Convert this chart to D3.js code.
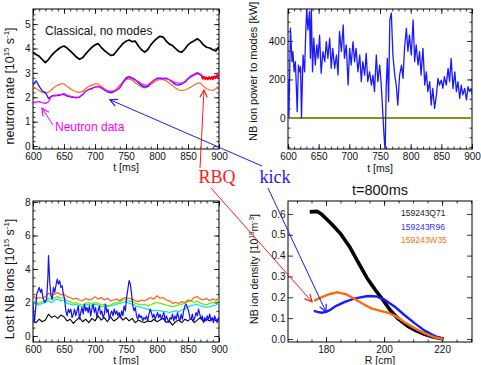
<!DOCTYPE html>
<html>
<head>
<meta charset="utf-8">
<script src="https://cdn.jsdelivr.net/npm/d3@7"></script>
<style>
  html, body { margin: 0; padding: 0; background: #fff; }
  svg { display: block; }
</style>
</head>
<body>
<svg id="chart" width="481" height="365"></svg>
<script>
// ---- data -------------------------------------------------------------
// time grid (ms) of the 5 ms sampled traces
const tGrid = d3.range(600, 901, 5);

const tTicks = [600, 650, 700, 750, 800, 850, 900];
const rateTicks = [0, 1, 2, 3, 4, 5];
const powerTicks = [0, 200, 400];
const lostTicks = [0, 2, 4, 6, 8];
const radiusTicks = [180, 200, 220];
const densTicks = [0, 0.1, 0.2, 0.3, 0.4, 0.5, 0.6];

// neutron rate [1e15 /s]
const rateClassical = [
  3.86, 3.75, 3.68, 3.55, 3.42, 3.55, 3.72, 3.85, 3.96, 4.05,
  4.10, 4.02, 3.90, 3.78, 3.65, 3.56, 3.62, 3.78, 3.92, 4.05,
  4.15, 4.20, 4.05, 3.92, 3.82, 3.72, 3.74, 3.90, 4.05, 4.20,
  4.30, 4.35, 4.28, 4.30, 4.10, 3.95, 3.85, 3.95, 4.15, 4.30,
  4.42, 4.50, 4.47, 4.30, 4.18, 4.12, 4.00, 3.88, 3.85, 3.98,
  4.15, 4.25, 4.32, 4.40, 4.30, 4.15, 4.05, 4.02, 3.95, 3.90,
  4.08];
const rateKick = [
  2.50, 2.68, 2.45, 2.25, 2.20, 1.95, 2.05, 2.08, 2.07, 2.10,
  2.12, 2.05, 2.02, 2.00, 1.98, 2.00, 2.10, 2.25, 2.32, 2.35,
  2.42, 2.45, 2.38, 2.30, 2.22, 2.18, 2.22, 2.30, 2.38, 2.62,
  2.80, 2.85, 2.80, 2.72, 2.60, 2.48, 2.42, 2.45, 2.58, 2.70,
  2.78, 2.78, 2.77, 2.78, 2.72, 2.62, 2.52, 2.50, 2.55, 2.62,
  2.75, 2.85, 2.92, 2.98, 2.92, 2.80, 2.78, 2.80, 2.82, 2.85,
  2.98];
const rateData = [
  1.80, 1.80, 1.82, 1.78, 1.75, 1.82, 2.05, 2.06, 2.10, 2.12,
  2.15, 2.08, 2.05, 2.02, 2.00, 2.02, 2.12, 2.25, 2.32, 2.38,
  2.42, 2.45, 2.40, 2.32, 2.25, 2.22, 2.25, 2.30, 2.40, 2.58,
  2.75, 2.80, 2.75, 2.70, 2.65, 2.55, 2.50, 2.50, 2.60, 2.70,
  2.75, 2.75, 2.76, 2.75, 2.72, 2.66, 2.60, 2.58, 2.58, 2.65,
  2.78, 2.88, 2.95, 3.02, 2.95, 2.85, 2.82, 2.80, 2.85, 2.88,
  3.00];
const rateW35 = [
  2.45, 2.35, 2.28, 2.20, 2.17, 2.20, 2.32, 2.42, 2.50, 2.55,
  2.55, 2.45, 2.35, 2.28, 2.22, 2.20, 2.25, 2.35, 2.45, 2.50,
  2.55, 2.55, 2.45, 2.35, 2.28, 2.25, 2.25, 2.35, 2.50, 2.62,
  2.72, 2.75, 2.70, 2.60, 2.50, 2.42, 2.38, 2.42, 2.52, 2.62,
  2.70, 2.72, 2.72, 2.68, 2.58, 2.48, 2.38, 2.30, 2.28, 2.30,
  2.35, 2.42, 2.50, 2.58, 2.58, 2.45, 2.35, 2.30, 2.28, 2.35,
  2.48];
const rateRBQ = [[872, 2.85], [874, 2.76], [876, 2.82], [878, 2.74], [880, 2.80],
  [882, 2.73], [884, 2.83], [886, 2.75], [888, 2.81], [890, 2.74], [892, 2.84],
  [894, 2.78], [896, 2.86], [898, 2.82], [900, 2.95]];

// NB ion power to modes [kW]
const nbPower = [[600, 200], [601.5, 0], [604, 466], [606.5, 293], [608, 345], [610, 240],
  [612, 293], [613.5, 171], [615, 33], [617, 275], [619, 240], [620.5, 267], [622, 0],
  [624.5, 327], [627, 240], [629, 450], [630.5, 570], [632.5, 457], [635, 552], [636.5, 310],
  [638, 570], [640, 240], [642, 414], [644.5, 275], [647, 380], [649, 310], [651.5, 430],
  [654, 232], [657, 345], [660, 293], [662.5, 397], [665, 310], [668, 414], [670.5, 258],
  [673, 362], [676, 258], [679, 327], [681.5, 223], [684, 450], [687, 345], [690, 483],
  [692, 310], [695, 380], [698, 171], [700.5, 362], [703, 275], [706, 397], [708.5, 293],
  [711, 362], [714, 240], [717, 327], [719.5, 189], [722, 293], [725, 223], [727.5, 336],
  [730, 189], [733, 240], [736, 171], [738.5, 223], [741, 137], [744, 327], [746.5, 189],
  [749.5, 275], [752, 171], [755, 0], [756.5, -88], [758.5, -175], [760, 154], [762, 310],
  [764, 85], [766, 509], [768.5, 544], [771, 327], [774, 223], [776.5, 171], [779, 67],
  [782, 223], [785, 275], [787.5, 206], [790, 362], [793, 466], [795.5, 345], [798, 431],
  [801, 327], [804, 509], [806.5, 293], [809, 380], [812, 275], [814.5, 345], [817, 223],
  [820, 362], [823, 171], [825.5, 240], [828, 137], [831, 189], [833.5, 67], [836, 154],
  [839, 50], [842, 120], [844.5, 206], [847, 171], [850, 197], [852.5, 154], [855, 215],
  [858, 171], [861, 258], [863.5, 189], [866, 310], [869, 154], [872, 240], [874.5, 137],
  [877, 189], [880, 102], [882.5, 171], [885, 120], [888, 154], [891, 94], [893.5, 163],
  [896, 137], [899, 154], [900, 120]];
const nbPowerClassical = [[600, 0], [900, 0]];

// lost NB ions [1e15 /s]
const lostClassical = [
  0.90, 0.80, 1.00, 0.85, 0.95, 1.30, 1.10, 1.20, 1.05, 1.25,
  1.15, 0.90, 1.00, 0.75, 0.95, 1.10, 0.85, 1.00, 0.80, 1.05,
  0.90, 1.20, 0.95, 1.10, 0.85, 1.15, 0.90, 1.00, 1.20, 0.95,
  1.10, 0.90, 1.05, 0.80, 0.95, 0.85, 0.80, 0.90, 0.85, 1.00,
  0.85, 0.95, 1.05, 0.80, 0.90, 0.65, 0.85, 0.95, 0.80, 1.00,
  0.90, 1.05, 0.80, 0.95, 1.10, 0.85, 1.00, 0.90, 1.05, 0.90,
  1.00];
const lostOrange = [
  2.45, 2.20, 2.30, 2.25, 2.35, 2.55, 2.45, 2.50, 2.60, 2.45,
  2.50, 2.35, 2.30, 2.20, 2.25, 2.15, 2.10, 2.25, 2.15, 2.20,
  2.35, 2.20, 2.30, 2.15, 2.25, 2.10, 2.15, 2.20, 2.10, 2.25,
  2.30, 2.25, 2.20, 2.10, 2.05, 2.15, 2.10, 2.20, 2.30, 2.20,
  2.40, 2.25, 2.30, 2.15, 2.10, 1.95, 2.00, 1.95, 2.05, 2.00,
  2.15, 2.10, 2.30, 2.35, 2.20, 2.15, 2.25, 2.10, 2.20, 2.15,
  2.25];
const lostGreen = [
  2.15, 2.00, 1.95, 2.05, 2.10, 2.25, 2.20, 2.30, 2.35, 2.25,
  2.30, 2.10, 2.05, 1.95, 2.00, 1.90, 1.85, 1.95, 2.00, 1.90,
  2.00, 1.95, 1.85, 1.90, 1.80, 1.85, 1.95, 2.00, 2.05, 2.15,
  2.20, 2.10, 2.05, 1.95, 1.90, 1.85, 1.90, 1.80, 1.85, 1.95,
  2.00, 1.95, 1.90, 1.85, 1.80, 1.75, 1.80, 1.85, 1.90, 1.95,
  2.05, 2.10, 2.00, 2.10, 1.95, 1.90, 1.85, 1.95, 2.00, 2.05,
  2.20];
const lostCyan = [
  2.00, 1.90, 1.85, 1.95, 2.00, 2.10, 2.00, 2.15, 2.20, 2.10,
  2.15, 1.95, 1.90, 1.85, 1.90, 1.80, 1.75, 1.85, 1.90, 1.80,
  1.90, 1.85, 1.75, 1.80, 1.75, 1.80, 1.85, 1.90, 1.95, 2.00,
  2.05, 1.95, 1.90, 1.80, 1.75, 1.70, 1.65, 1.60, 1.55, 1.50,
  1.55, 1.50, 1.45, 1.45, 1.40, 1.45, 1.50, 1.45, 1.55, 1.60,
  1.75, 1.80, 1.85, 1.90, 1.80, 1.75, 1.70, 1.75, 1.80, 1.85,
  1.95];
const lostKick = [[600, 2.0], [602, 0.8], [604, 1.5], [606, 2.5], [608, 2.7], [610, 2.9],
  [612, 2.6], [614, 2.8], [616, 2.3], [619, 2.0], [622, 2.2], [624, 3.5], [625, 4.8],
  [627, 3.2], [629, 2.4], [631, 2.2], [633, 2.9], [635, 2.6], [637, 3.0], [639, 3.4],
  [641, 3.1], [643, 3.3], [645, 2.9], [647, 3.0], [649, 2.5], [651, 2.2], [653, 1.5],
  [655, 1.2], [657, 1.6], [659, 1.4], [661, 1.6], [663, 1.1], [665, 1.3], [667, 1.6],
  [669, 1.2], [671, 1.5], [673, 1.8], [675, 1.0], [677, 1.4], [679, 1.7], [681, 1.3],
  [683, 1.9], [685, 1.5], [687, 1.7], [689, 1.4], [691, 1.8], [693, 1.2], [695, 1.6],
  [697, 1.9], [699, 1.4], [701, 1.7], [703, 1.1], [705, 1.5], [707, 1.8], [709, 1.3],
  [711, 1.5], [713, 1.1], [715, 1.3], [717, 1.9], [719, 1.4], [721, 1.6], [723, 1.0],
  [725, 1.3], [727, 1.5], [729, 1.2], [731, 1.6], [733, 1.3], [735, 1.5], [737, 1.2],
  [739, 1.4], [741, 1.1], [743, 1.5], [745, 1.2], [747, 1.8], [749, 1.5], [751, 2.3],
  [753, 2.8], [755, 3.3], [757, 3.1], [759, 2.5], [761, 1.8], [763, 1.5], [765, 1.7],
  [767, 1.2], [769, 1.0], [771, 1.3], [773, 1.1], [775, 1.2], [777, 0.9], [779, 1.1],
  [781, 1.0], [783, 1.2], [785, 0.9], [787, 1.3], [789, 1.6], [791, 1.4], [793, 1.1],
  [795, 1.3], [797, 1.0], [799, 1.2], [801, 1.4], [803, 1.1], [805, 1.3], [807, 1.0],
  [809, 1.2], [811, 1.4], [813, 0.9], [815, 1.2], [817, 1.0], [819, 0.8], [821, 1.1],
  [823, 1.0], [825, 1.3], [827, 0.9], [829, 1.2], [831, 1.0], [833, 1.4], [835, 1.1],
  [837, 0.9], [839, 1.3], [841, 1.0], [843, 1.5], [845, 1.8], [847, 1.9], [849, 1.7],
  [851, 1.5], [853, 1.1], [855, 1.0], [857, 1.3], [859, 0.9], [861, 1.1], [863, 1.4],
  [865, 1.2], [867, 1.6], [869, 1.3], [871, 1.0], [873, 1.2], [875, 0.8], [877, 1.1],
  [879, 0.9], [881, 1.2], [883, 1.0], [885, 1.3], [887, 0.9], [889, 1.1], [891, 0.8],
  [893, 1.2], [895, 1.0], [897, 0.8], [899, 1.1], [900, 0.9]];

// NB ion density profiles at t=800 ms, [R cm, density]
const densQ71 = [[174.4, 0.610], [177, 0.612], [178.5, 0.598], [180, 0.578], [182, 0.550],
  [185, 0.505], [188, 0.445], [191, 0.370], [194, 0.295], [197, 0.235], [199.5, 0.190],
  [202, 0.140], [205, 0.095], [208, 0.063], [211, 0.040], [214, 0.022], [217, 0.009],
  [220.5, 0.0]];
const densR96 = [[175.8, 0.135], [177, 0.130], [178.5, 0.126], [180, 0.130], [181.5, 0.140],
  [183, 0.155], [186.5, 0.178], [190, 0.195], [194.5, 0.206], [197.4, 0.204], [200.2, 0.188],
  [203.7, 0.155], [207, 0.115], [210.6, 0.075], [214, 0.040], [217.5, 0.014], [220.3, 0.0]];
const densW35 = [[175.9, 0.184], [178.4, 0.200], [181.3, 0.216], [184.1, 0.224], [187, 0.214],
  [189.9, 0.192], [192.8, 0.168], [195.6, 0.147], [198.5, 0.136], [201.4, 0.126],
  [204.3, 0.107], [207.1, 0.080], [210.6, 0.051], [214, 0.027], [217.5, 0.008], [220.3, 0.0]];
const shotNames = ['159243Q71', '159243R96', '159243W35'];

// ---- drawing ----------------------------------------------------------
const FONT = '"Liberation Sans", Arial, Helvetica, sans-serif';
const SERIF = '"Liberation Serif", "Times New Roman", serif';
const svg = d3.select('#chart');
const defs = svg.append('defs');

const onGrid = values => tGrid.map((t, i) => [t, values[i]]);

function makePanel(p) {
  const x = d3.scaleLinear().domain(p.xDomain).range([p.left, p.right]);
  const y = d3.scaleLinear().domain(p.yDomain).range([p.bottom, p.top]);

  defs.append('clipPath').attr('id', 'clip-' + p.id)
    .append('rect')
    .attr('x', p.left).attr('y', p.top)
    .attr('width', p.right - p.left).attr('height', p.bottom - p.top);

  const axes = svg.append('g');
  const add = (axis, tr) => {
    const g = axes.append('g').attr('transform', tr).call(axis);
    g.select('.domain').remove();
    g.attr('font-family', FONT).attr('font-size', 10);
    g.selectAll('line').attr('stroke', '#000').attr('stroke-width', 0.8);
    g.selectAll('text').attr('fill', '#111');
  };

  // minor then major, ticks pointing inward on all four sides
  add(d3.axisBottom(x).tickValues(p.xMinor).tickSize(-2.5).tickFormat(''), `translate(0,${p.bottom})`);
  add(d3.axisBottom(x).tickValues(p.xTicks).tickSize(-5).tickPadding(3.5).tickFormat(d3.format('d')), `translate(0,${p.bottom})`);
  add(d3.axisTop(x).tickValues(p.xMinor).tickSize(-2.5).tickFormat(''), `translate(0,${p.top})`);
  add(d3.axisTop(x).tickValues(p.xTicks).tickSize(-5).tickFormat(''), `translate(0,${p.top})`);
  add(d3.axisLeft(y).tickValues(p.yMinor).tickSize(-2.5).tickFormat(''), `translate(${p.left},0)`);
  add(d3.axisLeft(y).tickValues(p.yTicks).tickSize(-5).tickPadding(2.5).tickFormat(p.yFormat), `translate(${p.left},0)`);
  add(d3.axisRight(y).tickValues(p.yMinor).tickSize(-2.5).tickFormat(''), `translate(${p.right},0)`);
  add(d3.axisRight(y).tickValues(p.yTicks).tickSize(-5).tickFormat(''), `translate(${p.right},0)`);

  svg.append('rect')
    .attr('x', p.left).attr('y', p.top)
    .attr('width', p.right - p.left).attr('height', p.bottom - p.top)
    .attr('fill', 'none').attr('stroke', '#000').attr('stroke-width', 1);

  // x title
  svg.append('text')
    .attr('x', (p.left + p.right) / 2).attr('y', p.xTitleY)
    .attr('text-anchor', 'middle')
    .attr('font-family', FONT).attr('font-size', 10.5).attr('fill', '#111')
    .text(p.xTitle);

  const plot = svg.append('g').attr('clip-path', `url(#clip-${p.id})`);
  const line = d3.line().x(d => x(d[0])).y(d => y(d[1]));
  const draw = (data, color, width) => plot.append('path')
    .datum(data)
    .attr('d', line)
    .attr('fill', 'none')
    .attr('stroke', color)
    .attr('stroke-width', width)
    .attr('stroke-linejoin', 'round');

  return { x, y, plot, draw };
}

// rotated y title with superscripts: parts = [[text, shift], ...]
function yTitle(tx, ty, anchor, size, parts) {
  const t = svg.append('text')
    .attr('transform', `translate(${tx},${ty}) rotate(-90)`)
    .attr('text-anchor', anchor)
    .attr('font-family', FONT).attr('font-size', size).attr('fill', '#111');
  parts.forEach(([s, sup]) => {
    t.append('tspan')
      .attr('font-size', sup === 1 ? size * 0.62 : size)
      .attr('dy', sup === 1 ? -size * 0.4 : sup === -1 ? size * 0.4 : 0)
      .text(s);
  });
}

const dTime = d3.range(600, 901, 10);

// top-left: neutron rate
const P1 = makePanel({
  id: 'rate', left: 33, right: 219, top: 9, bottom: 149,
  xDomain: [600, 900], yDomain: [-0.12, 5.62],
  xTicks: tTicks, xMinor: dTime,
  yTicks: rateTicks, yMinor: d3.range(0, 5.61, 0.2), yFormat: d3.format('d'),
  xTitle: 't [ms]', xTitleY: 171
});
P1.draw(onGrid(rateClassical), '#000', 1.7);
P1.draw(onGrid(rateW35), '#ff6a1a', 1.2);
P1.draw(onGrid(rateKick), '#1a1aff', 1.3);
P1.draw(onGrid(rateData), '#ff00ff', 1.2);
P1.draw(rateRBQ, '#ff0000', 1.8);
yTitle(14, 86, 'middle', 12.5,
  [['neutron rate [10', 0], ['15', 1], [' s', -1], ['-1', 1], [']', -1]]);
svg.append('text').attr('x', 45).attr('y', 35)
  .attr('font-family', FONT).attr('font-size', 12).attr('fill', '#111')
  .text('Classical, no modes');
svg.append('text').attr('x', 55).attr('y', 131)
  .attr('font-family', FONT).attr('font-size', 12).attr('fill', '#ff00ff')
  .text('Neutron data');

// top-right: NB power to modes
const P2 = makePanel({
  id: 'power', left: 288, right: 472, top: 9, bottom: 149,
  xDomain: [600, 900], yDomain: [-161, 566],
  xTicks: tTicks, xMinor: dTime,
  yTicks: powerTicks, yMinor: d3.range(-150, 561, 50), yFormat: d3.format('d'),
  xTitle: 't [ms]', xTitleY: 172
});
P2.draw(nbPowerClassical, '#9a8a16', 2.2);
P2.draw(nbPower, '#1a1aff', 1.3);
yTitle(257, 141, 'start', 11, [['NB ion power to modes [kW]', 0]]);

// bottom-left: lost NB ions
const P3 = makePanel({
  id: 'lost', left: 33, right: 219, top: 201, bottom: 342,
  xDomain: [600, 900], yDomain: [-0.36, 8.06],
  xTicks: tTicks, xMinor: dTime,
  yTicks: lostTicks, yMinor: d3.range(0, 8.01, 0.5), yFormat: d3.format('d'),
  xTitle: 't [ms]', xTitleY: 364
});
P3.draw(onGrid(lostClassical), '#000', 1.1);
P3.draw(onGrid(lostCyan), '#00e8e8', 1.2);
P3.draw(onGrid(lostGreen), '#5cf000', 1.2);
P3.draw(onGrid(lostOrange), '#ff6010', 1.2);
P3.draw(lostKick, '#1010ff', 1.2);
yTitle(14, 279, 'middle', 12.5,
  [['Lost NB ions [10', 0], ['15', 1], [' s', -1], ['-1', 1], [']', -1]]);

// bottom-right: density profiles
const P4 = makePanel({
  id: 'dens', left: 288, right: 472, top: 201, bottom: 342,
  xDomain: [166.9, 230.3], yDomain: [-0.0145, 0.662],
  xTicks: radiusTicks, xMinor: d3.range(170, 231, 5),
  yTicks: densTicks, yMinor: [], yFormat: d3.format('.1f'),
  xTitle: 'R [cm]', xTitleY: 364
});
P4.draw(densQ71, '#000', 3.6);
P4.draw(densR96, '#1a1aff', 2.4);
P4.draw(densW35, '#ff6a10', 2.4);
yTitle(258, 269, 'middle', 10.5,
  [['NB ion density [10', 0], ['18', 1], ['m', -1], ['-3', 1], [']', -1]]);
svg.append('text').attr('x', 380).attr('y', 195).attr('text-anchor', 'middle')
  .attr('font-family', FONT).attr('font-size', 14.5).attr('fill', '#111')
  .text('t=800ms');
const shotColors = ['#222', '#3333ff', '#ff7020'];
shotNames.forEach((name, i) => {
  svg.append('text').attr('x', 401).attr('y', 216 + i * 13.7)
    .attr('font-family', FONT).attr('font-size', 8.5).attr('fill', shotColors[i])
    .text(name);
});

// ---- annotations ------------------------------------------------------
function arrowMarker(id, color) {
  defs.append('marker').attr('id', id)
    .attr('viewBox', '-10 -6 12 12').attr('refX', 0).attr('refY', 0)
    .attr('markerUnits', 'userSpaceOnUse')
    .attr('markerWidth', 11).attr('markerHeight', 11)
    .attr('orient', 'auto')
    .append('path').attr('d', 'M-8,-4L0,0L-8,4')
    .attr('fill', 'none').attr('stroke', color).attr('stroke-width', 1.3);
}
arrowMarker('arrow-blue', '#1a1aff');
arrowMarker('arrow-red', '#ff1a1a');
arrowMarker('arrow-mag', '#ff00ff');

function arrow(x1, y1, x2, y2, color, marker) {
  svg.append('line')
    .attr('x1', x1).attr('y1', y1).attr('x2', x2).attr('y2', y2)
    .attr('stroke', color).attr('stroke-width', 1)
    .attr('marker-end', `url(#${marker})`);
}

arrow(53, 125, P1.x(614.5), P1.y(1.56), '#ff00ff', 'arrow-mag');
arrow(262, 166, P1.x(724), P1.y(1.9), '#1a1aff', 'arrow-blue');
arrow(268, 188, P4.x(180), P4.y(0.13), '#1a1aff', 'arrow-blue');
arrow(200, 168, P1.x(875.8), P1.y(2.3), '#ff1a1a', 'arrow-red');
arrow(211, 188, P4.x(175.2), P4.y(0.178), '#ff1a1a', 'arrow-red');

svg.append('text').attr('x', 217).attr('y', 183).attr('text-anchor', 'middle')
  .attr('font-family', SERIF).attr('font-size', 18).attr('fill', '#ff1a1a')
  .text('RBQ');
svg.append('text').attr('x', 275).attr('y', 183).attr('text-anchor', 'middle')
  .attr('font-family', SERIF).attr('font-size', 18).attr('fill', '#1a1aff')
  .text('kick');
</script>
</body>
</html>
